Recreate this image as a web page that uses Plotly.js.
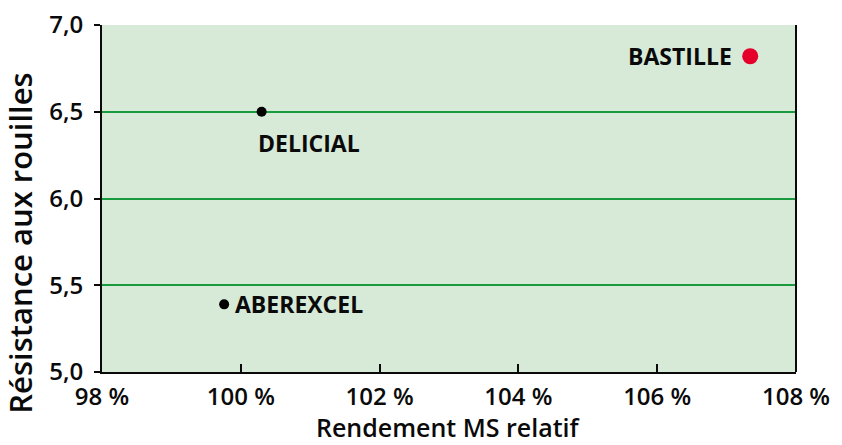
<!DOCTYPE html>
<html><head><meta charset="utf-8">
<script src="https://cdn.plot.ly/plotly-3.0.1.min.js"></script>
<style>html,body{margin:0;padding:0;background:#fff}#chart{width:842px;height:445px}</style>
</head><body><div id="chart"></div>
<script>
const varieties = ["BASTILLE", "DELICIAL", "ABEREXCEL"];
const rendement = [107.34, 100.30, 99.76];
const resistance = [6.82, 6.50, 5.39];
const colors = ["#e4002b", "#000000", "#000000"];
const sizes = [16, 10, 10];
const xTicks = [98, 100, 102, 104, 106, 108];
const xTickText = ["98 %", "100 %", "102 %", "104 %", "106 %", "108 %"];
const yTicks = [5.0, 5.5, 6.0, 6.5, 7.0];
const yTickText = ["5,0", "5,5", "6,0", "6,5", "7,0"];
const xTitle = "Rendement MS relatif";
const yTitle = "Résistance aux rouilles";

const FONT = "Open Sans, sans-serif";
const INK = "#0a0a0a";
const labelPos = [
  {xanchor: "right", yanchor: "middle", xshift: -16, yshift: 0},
  {xanchor: "left", yanchor: "middle", xshift: -6, yshift: -31},
  {xanchor: "left", yanchor: "middle", xshift: 9, yshift: 0}
];

const annotations = varieties.map((v, i) => Object.assign({
  x: rendement[i], y: resistance[i], xref: "x", yref: "y",
  text: v, showarrow: false,
  font: {family: FONT, size: 23, color: INK, weight: 700}
}, labelPos[i]));

annotations.push({
  xref: "paper", yref: "paper", x: -0.118, y: 0.37,
  xanchor: "center", yanchor: "middle",
  text: yTitle, textangle: -90, showarrow: false,
  font: {family: FONT, size: 31, color: INK, weight: 600}
});
annotations.push({
  xref: "paper", yref: "paper", x: 0.4986, y: -0.158,
  xanchor: "center", yanchor: "middle",
  text: xTitle, showarrow: false,
  font: {family: FONT, size: 25, color: INK, weight: 600}
});

const data = [{
  type: "scatter", mode: "markers",
  x: rendement, y: resistance,
  marker: {color: colors, size: sizes, opacity: 1, line: {width: 0}},
  hoverinfo: "skip", cliponaxis: false
}];

const layout = {
  width: 842, height: 445,
  margin: {l: 102, r: 46, t: 25, b: 73},
  paper_bgcolor: "#ffffff", plot_bgcolor: "#d7e9d7",
  showlegend: false,
  font: {family: FONT, color: INK},
  xaxis: {
    range: [98, 108], tickvals: xTicks, ticktext: xTickText,
    showgrid: false, zeroline: false,
    showline: true, linecolor: INK, linewidth: 2, mirror: false,
    ticks: "inside", ticklen: 8, tickwidth: 2, tickcolor: INK,
    ticklabelstandoff: 2,
    tickfont: {family: FONT, size: 24, color: INK, weight: 600}
  },
  yaxis: {
    range: [5, 7], tickvals: yTicks, ticktext: yTickText,
    showgrid: true, gridcolor: "#1a9a3e", gridwidth: 2, zeroline: false,
    showline: true, linecolor: INK, linewidth: 2,
    ticks: "outside", ticklen: 6, tickwidth: 2, tickcolor: INK,
    ticklabelstandoff: 6,
    tickfont: {family: FONT, size: 24, color: INK, weight: 600}
  },
  shapes: [{type: "line", xref: "paper", yref: "paper", x0: 1, x1: 1, y0: 0, y1: 1, line: {color: INK, width: 2}}],
  annotations: annotations
};
Plotly.newPlot("chart", data, layout, {staticPlot: true, displayModeBar: false});
</script></body></html>
